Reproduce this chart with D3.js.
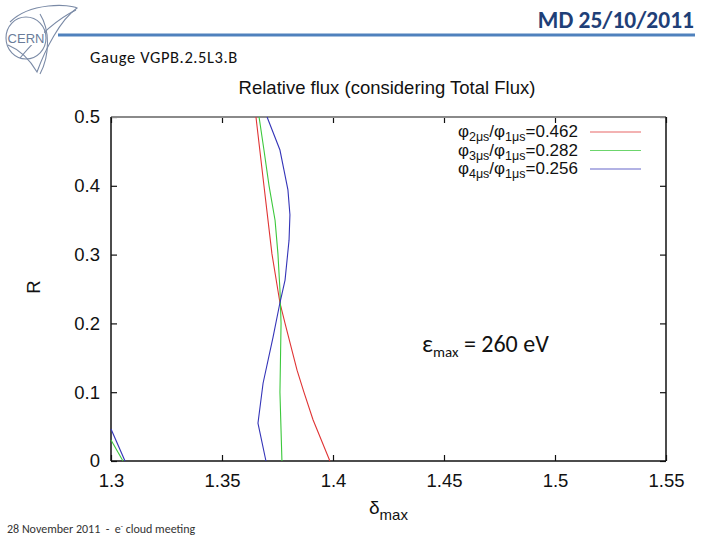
<!DOCTYPE html>
<html><head><meta charset="utf-8">
<script src="https://cdn.jsdelivr.net/npm/d3@7"></script>
<style>
html,body{margin:0;padding:0;background:#fff;}
svg{display:block;}
</style></head>
<body>
<svg id="chart" width="720" height="540"></svg>
<script>
// ---- data ----
const xTicks = [1.3, 1.35, 1.4, 1.45, 1.5, 1.55];
const yTicks = [0, 0.1, 0.2, 0.3, 0.4, 0.5];
const seriesLabels = [
  {a: "2", b: "1", v: "0.462"},
  {a: "3", b: "1", v: "0.282"},
  {a: "4", b: "1", v: "0.256"}
];
const seriesColors = ["#e03434", "#3cc83c", "#3434b8"];
// red: phi2/phi1 = 0.462
const redDelta = [1.3653, 1.3689, 1.3725, 1.3761, 1.3784, 1.3838, 1.3869, 1.3910, 1.3986];
const redR     = [0.5,    0.4,    0.301,  0.230,  0.2,    0.132,  0.1,    0.06,   0];
// green: phi3/phi1 = 0.282
const greenDelta = [1.3667, 1.3689, 1.3712, 1.3739, 1.3752, 1.3761, 1.3766, 1.3761, 1.3770];
const greenR     = [0.5,    0.452,  0.4,    0.35,   0.301,  0.249,  0.2,    0.1,    0];
const greenDelta2 = [1.3, 1.3054];
const greenR2     = [0.0305, 0];
// blue: phi4/phi1 = 0.256
const blueDelta = [1.3703, 1.3761, 1.3779, 1.3797, 1.3806, 1.3802, 1.3784, 1.3761, 1.3730, 1.3685, 1.3662, 1.3698];
const blueR     = [0.5,    0.452,  0.423,  0.394,  0.358,  0.321,  0.263,  0.230,  0.180,  0.113,  0.055,  0];
const blueDelta2 = [1.3, 1.3063];
const blueR2     = [0.0465, 0];

const svg = d3.select("#chart");
const plot = {left: 111, right: 666, top: 117, bottom: 461};
const x = d3.scaleLinear().domain([1.3, 1.55]).range([plot.left, plot.right]);
const y = d3.scaleLinear().domain([0, 0.5]).range([plot.bottom, plot.top]);
const sans = "'Liberation Sans', Arial, Helvetica, sans-serif";
const cal = "Carlito, Lato, 'Open Sans', sans-serif";

// ---- slide header ----
const logo = svg.append("g").attr("fill", "none").attr("stroke", "#7a8aa6").attr("stroke-width", 1.1);
logo.append("ellipse").attr("cx", 26).attr("cy", 38).attr("rx", 20).attr("ry", 21);
logo.append("path").attr("d", "M10,22 C30,2 70,4 77,8 C60,20 45,50 37,72 C30,60 20,50 8,45");
logo.append("path").attr("d", "M20,58 C35,40 55,20 76,10");
logo.append("path").attr("d", "M40,14 C50,30 50,55 40,74");
svg.append("rect").attr("x", 9).attr("y", 31).attr("width", 35).attr("height", 14).attr("fill", "#fff");
svg.append("text").attr("x", 26).attr("y", 43).attr("text-anchor", "middle")
  .attr("font-family", sans).attr("font-size", 13).attr("fill", "#6a7c9a").text("CERN");

svg.append("text").attr("x", 694).attr("y", 28).attr("text-anchor", "end")
  .attr("font-family", cal).attr("font-weight", "bold").attr("font-size", 23.5)
  .attr("fill", "#1f3f78").text("MD 25/10/2011");
svg.append("line").attr("x1", 58).attr("x2", 695).attr("y1", 35).attr("y2", 35)
  .attr("stroke", "#4f81bd").attr("stroke-width", 3);
svg.append("text").attr("x", 90).attr("y", 63)
  .attr("font-family", cal).attr("font-size", 16.5).attr("letter-spacing", 0.6)
  .attr("fill", "#111").text("Gauge VGPB.2.5L3.B");

const foot = svg.append("text").attr("x", 7).attr("y", 533)
  .attr("font-family", cal).attr("font-size", 12).attr("fill", "#333");
foot.append("tspan").text("28 November 2011\u00a0\u00a0-\u00a0\u00a0e");
foot.append("tspan").attr("baseline-shift", "super").attr("font-size", 7).text("-");
foot.append("tspan").text(" cloud meeting");

// ---- chart title ----
svg.append("text").attr("x", 387).attr("y", 94).attr("text-anchor", "middle")
  .attr("font-family", sans).attr("font-size", 18.5).attr("fill", "#111")
  .text("Relative flux (considering Total Flux)");

// ---- axes ----
const gx = svg.append("g").attr("transform", `translate(0,${plot.bottom})`)
  .call(d3.axisBottom(x).tickValues(xTicks).tickFormat(d => d3.format("")(d)).tickSize(-6).tickSizeOuter(0).tickPadding(13));
const gxTop = svg.append("g").attr("transform", `translate(0,${plot.top})`)
  .call(d3.axisTop(x).tickValues(xTicks).tickFormat("").tickSize(-6).tickSizeOuter(0));
const gy = svg.append("g").attr("transform", `translate(${plot.left},0)`)
  .call(d3.axisLeft(y).tickValues(yTicks).tickFormat(d => d3.format("")(d)).tickSize(-6).tickSizeOuter(0).tickPadding(11));
const gyR = svg.append("g").attr("transform", `translate(${plot.right},0)`)
  .call(d3.axisRight(y).tickValues(yTicks).tickFormat("").tickSize(-6).tickSizeOuter(0));
[gx, gxTop, gy, gyR].forEach(g => {
  g.select(".domain").remove();
  g.selectAll("line").attr("stroke", "#111").attr("stroke-width", 1.2);
  g.selectAll("text").attr("font-family", sans).attr("font-size", 18.5).attr("fill", "#111");
});

// frame
svg.append("line").attr("x1", plot.left).attr("x2", plot.right).attr("y1", plot.top).attr("y2", plot.top)
  .attr("stroke", "#8a8a8a").attr("stroke-width", 2);
svg.append("line").attr("x1", plot.left).attr("x2", plot.left).attr("y1", plot.top).attr("y2", plot.bottom)
  .attr("stroke", "#111").attr("stroke-width", 1.5);
svg.append("line").attr("x1", plot.right).attr("x2", plot.right).attr("y1", plot.top).attr("y2", plot.bottom)
  .attr("stroke", "#111").attr("stroke-width", 1.5);
svg.append("line").attr("x1", plot.left).attr("x2", plot.right).attr("y1", plot.bottom).attr("y2", plot.bottom)
  .attr("stroke", "#111").attr("stroke-width", 1.5);

// axis labels
svg.append("text").attr("transform", "translate(40,287) rotate(-90)").attr("text-anchor", "middle")
  .attr("font-family", sans).attr("font-size", 18.5).attr("fill", "#111").text("R");
const xl = svg.append("text").attr("x", 369).attr("y", 514)
  .attr("font-family", sans).attr("font-size", 19).attr("fill", "#111");
xl.append("tspan").text("δ");
xl.append("tspan").attr("dy", 6).attr("font-size", 15).text("max");

// ---- curves ----
const line = d3.line().x(d => x(d[0])).y(d => y(d[1]));
const zipPts = (a, b) => a.map((v, i) => [v, b[i]]);
const curves = [
  {pts: zipPts(redDelta, redR), c: 0},
  {pts: zipPts(greenDelta, greenR), c: 1},
  {pts: zipPts(greenDelta2, greenR2), c: 1},
  {pts: zipPts(blueDelta, blueR), c: 2},
  {pts: zipPts(blueDelta2, blueR2), c: 2}
];
svg.append("g").selectAll("path").data(curves).join("path")
  .attr("d", d => line(d.pts)).attr("fill", "none")
  .attr("stroke", d => seriesColors[d.c]).attr("stroke-width", 1.1);

// ---- legend ----
const leg = svg.append("g");
seriesLabels.forEach((s, i) => {
  const yy = 137 + i * 18.5;
  const t = leg.append("text").attr("x", 578).attr("y", yy).attr("text-anchor", "end")
    .attr("font-family", sans).attr("font-size", 17).attr("fill", "#111");
  t.append("tspan").text("φ");
  t.append("tspan").attr("dy", 4).attr("font-size", 12.5).text(s.a + "μs");
  t.append("tspan").attr("dy", -4).text("/φ");
  t.append("tspan").attr("dy", 4).attr("font-size", 12.5).text(s.b + "μs");
  t.append("tspan").attr("dy", -4).text("=" + s.v);
  leg.append("line").attr("x1", 590).attr("x2", 641).attr("y1", yy - 5).attr("y2", yy - 5)
    .attr("stroke", seriesColors[i]).attr("stroke-width", 1.2).attr("opacity", 0.75);
});

// ---- annotation ----
const ann = svg.append("text").attr("x", 422).attr("y", 352)
  .attr("font-family", cal).attr("font-size", 24).attr("fill", "#111");
ann.append("tspan").text("ε");
ann.append("tspan").attr("dy", 5).attr("font-size", 15).text("max");
ann.append("tspan").attr("dy", -5).text(" = 260 eV");
</script>
</body></html>
